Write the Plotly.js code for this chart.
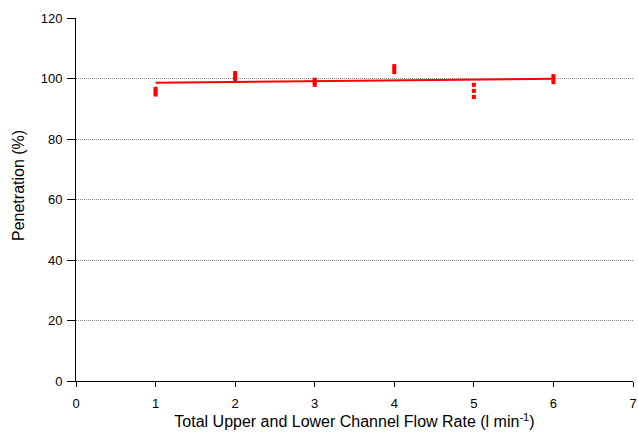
<!DOCTYPE html>
<html>
<head>
<meta charset="utf-8">
<script src="https://cdn.plot.ly/plotly-3.0.1.min.js"></script>
<style>html,body{margin:0;padding:0;background:#fff;}#chart{width:638px;height:433px;}</style>
</head>
<body>
<div id="chart"></div>
<script>
const flowRate = [1,1,1, 2,2,2, 3,3,3, 4,4,4, 5,5,5, 6,6,6];
const penetration = [96.6,95.6,94.7, 101.8,100.8,99.8, 99.6,98.8,97.9, 104.1,103.1,102.1, 97.9,95.9,93.9, 100.8,99.8,98.8];
// Linear fit line
const fitX = [1, 6];
const fitY = [98.6, 99.9];

const xTicks = [0,1,2,3,4,5,6,7];
const yTicks = [0,20,40,60,80,100,120];

const data = [
  {x: fitX, y: fitY, mode: 'lines', type: 'scatter',
   line: {color: '#ff0000', width: 2}, hoverinfo: 'skip', showlegend: false},
  {x: flowRate, y: penetration, mode: 'markers', type: 'scatter',
   marker: {symbol: 'square', size: 4, color: '#ff0000', line: {width: 0}}, showlegend: false}
];

const font = {family: 'Liberation Sans, Arial, sans-serif', color: '#000'};

const layout = {
  width: 638, height: 433,
  margin: {l: 76, r: 5, t: 18, b: 52},
  paper_bgcolor: '#fff', plot_bgcolor: '#fff',
  font: Object.assign({size: 13}, font),
  showlegend: false,
  xaxis: {
    range: [0, 7], tickvals: xTicks, ticktext: xTicks.map(String),
    showgrid: false, zeroline: false,
    showline: true, linecolor: '#000', linewidth: 1,
    ticks: 'outside', ticklen: 5, tickcolor: '#000', tickwidth: 1,
    ticklabelstandoff: 5,
    tickfont: Object.assign({size: 13}, font),
    title: {text: 'Total Upper and Lower Channel Flow Rate (l min<sup>-1</sup>)', font: Object.assign({size: 16}, font), standoff: 4}
  },
  yaxis: {
    range: [0, 120], tickvals: yTicks, ticktext: yTicks.map(String),
    showgrid: true, gridcolor: '#888', gridwidth: 1, griddash: '1px,1px',
    zeroline: false,
    showline: true, linecolor: '#000', linewidth: 1,
    ticks: 'outside', ticklen: 8, tickcolor: '#000', tickwidth: 1,
    ticklabelstandoff: 2,
    tickfont: Object.assign({size: 13}, font)
  },
  annotations: [{
    text: 'Penetration (%)', textangle: -90, showarrow: false,
    xref: 'paper', yref: 'paper', x: (18 - 76) / 557, y: (381 - 186) / 363,
    xanchor: 'center', yanchor: 'middle',
    font: Object.assign({size: 16}, font)
  }]
};

Plotly.newPlot('chart', data, layout, {displayModeBar: false, staticPlot: true});
</script>
</body>
</html>
